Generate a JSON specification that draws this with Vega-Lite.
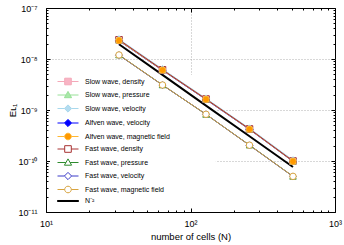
{
  "$schema": "https://vega.github.io/schema/vega-lite/v6.json",
  "width": 289,
  "height": 204,
  "autosize": "none",
  "padding": {"left": 46, "top": 8, "right": 9, "bottom": 33},
  "config": {
    "view": {"stroke": "black", "strokeWidth": 1},
    "font": "Liberation Sans",
    "axis": {
      "domain": false,
      "labelFont": "Liberation Sans",
      "labelFontSize": 9,
      "labelColor": "black",
      "titleFont": "Liberation Sans",
      "titleFontSize": 9.5,
      "titleFontWeight": "normal",
      "titleColor": "black",
      "tickColor": "black",
      "tickWidth": 1,
      "gridColor": "#b0b0b0",
      "gridDash": [1, 2],
      "labelFlush": false,
      "labelOverlap": false,
      "labelBound": false
    },
    "legend": {
      "orient": "none", "legendX": 18.5, "legendY": 70, "title": null,
      "symbolSize": 36, "symbolStrokeWidth": 1, "labelFontSize": 7, "labelFont": "Liberation Sans",
      "labelColor": "black", "rowPadding": 1.5, "labelOffset": 13.5, "padding": 0
    }
  },
  "datasets": {
    "d": [
      {"series": "Slow wave, density", "N": 32, "E": 2.38e-8},
      {"series": "Slow wave, density", "N": 64, "E": 6.15e-9},
      {"series": "Slow wave, density", "N": 128, "E": 1.64e-9},
      {"series": "Slow wave, density", "N": 256, "E": 4.25e-10},
      {"series": "Slow wave, density", "N": 512, "E": 1.0e-10},
      {"series": "Slow wave, pressure", "N": 32, "E": 2.35e-8},
      {"series": "Slow wave, pressure", "N": 64, "E": 6.1e-9},
      {"series": "Slow wave, pressure", "N": 128, "E": 1.63e-9},
      {"series": "Slow wave, pressure", "N": 256, "E": 4.22e-10},
      {"series": "Slow wave, pressure", "N": 512, "E": 9.9e-11},
      {"series": "Slow wave, velocity", "N": 32, "E": 2.45e-8},
      {"series": "Slow wave, velocity", "N": 64, "E": 6.35e-9},
      {"series": "Slow wave, velocity", "N": 128, "E": 1.69e-9},
      {"series": "Slow wave, velocity", "N": 256, "E": 4.38e-10},
      {"series": "Slow wave, velocity", "N": 512, "E": 1.04e-10},
      {"series": "Alfven wave, velocity", "N": 32, "E": 2.28e-8},
      {"series": "Alfven wave, velocity", "N": 64, "E": 6.0e-9},
      {"series": "Alfven wave, velocity", "N": 128, "E": 1.6e-9},
      {"series": "Alfven wave, velocity", "N": 256, "E": 4.15e-10},
      {"series": "Alfven wave, velocity", "N": 512, "E": 9.8e-11},
      {"series": "Alfven wave, magnetic field", "N": 32, "E": 2.3e-8},
      {"series": "Alfven wave, magnetic field", "N": 64, "E": 6.05e-9},
      {"series": "Alfven wave, magnetic field", "N": 128, "E": 1.62e-9},
      {"series": "Alfven wave, magnetic field", "N": 256, "E": 4.18e-10},
      {"series": "Alfven wave, magnetic field", "N": 512, "E": 9.85e-11},
      {"series": "Fast wave, density", "N": 32, "E": 2.38e-8},
      {"series": "Fast wave, density", "N": 64, "E": 6.15e-9},
      {"series": "Fast wave, density", "N": 128, "E": 1.64e-9},
      {"series": "Fast wave, density", "N": 256, "E": 4.25e-10},
      {"series": "Fast wave, density", "N": 512, "E": 1.0e-10},
      {"series": "Fast wave, pressure", "N": 32, "E": 1.2e-8},
      {"series": "Fast wave, pressure", "N": 64, "E": 3.1e-9},
      {"series": "Fast wave, pressure", "N": 128, "E": 8.2e-10},
      {"series": "Fast wave, pressure", "N": 256, "E": 2.05e-10},
      {"series": "Fast wave, pressure", "N": 512, "E": 5.0e-11},
      {"series": "Fast wave, velocity", "N": 32, "E": 1.19e-8},
      {"series": "Fast wave, velocity", "N": 64, "E": 3.08e-9},
      {"series": "Fast wave, velocity", "N": 128, "E": 8.25e-10},
      {"series": "Fast wave, velocity", "N": 256, "E": 2.03e-10},
      {"series": "Fast wave, velocity", "N": 512, "E": 4.98e-11},
      {"series": "Fast wave, magnetic field", "N": 32, "E": 1.2e-8},
      {"series": "Fast wave, magnetic field", "N": 64, "E": 3.09e-9},
      {"series": "Fast wave, magnetic field", "N": 128, "E": 8.24e-10},
      {"series": "Fast wave, magnetic field", "N": 256, "E": 2.04e-10},
      {"series": "Fast wave, magnetic field", "N": 512, "E": 5.0e-11},
      {"series": "N⁻²", "N": 32, "E": 1.95e-8},
      {"series": "N⁻²", "N": 64, "E": 4.88e-9},
      {"series": "N⁻²", "N": 128, "E": 1.22e-9},
      {"series": "N⁻²", "N": 256, "E": 3.05e-10},
      {"series": "N⁻²", "N": 512, "E": 7.63e-11}
    ]
  },
  "data": {"name": "d"},
  "layer": [
    {
      "mark": {"type": "rect", "fill": "white", "stroke": null},
      "encoding": {
        "x": {"datum": 10.74, "type": "quantitative", "scale": {"type": "log", "domain": [10, 1000], "nice": false}, "axis": null},
        "x2": {"datum": 148},
        "y": {"datum": 1.225e-11, "type": "quantitative", "scale": {"type": "log", "domain": [1e-11, 1e-7], "nice": false}, "axis": null},
        "y2": {"datum": 4.85e-9}
      }
    },
    {
      "transform": [{"filter": "datum.series != 'N⁻²'"}],
      "mark": {"type": "line", "strokeWidth": 1},
      "encoding": {
        "x": {
          "field": "N", "type": "quantitative",
          "scale": {"type": "log", "domain": [10, 1000], "nice": false},
          "axis": {
            "orient": "bottom",
            "title": "number of cells (N)",
            "values": [10, 20, 30, 40, 50, 60, 70, 80, 90, 100, 200, 300, 400, 500, 600, 700, 800, 900, 1000],
            "labelExpr": "datum.value == 10 ? '10¹' : datum.value == 100 ? '10²' : datum.value == 1000 ? '10³' : ''",
            "tickSize": {"condition": {"test": "indexof([10, 100, 1000], datum.value) >= 0", "value": -4}, "value": -2},
            "grid": true,
            "gridOpacity": {"condition": {"test": "datum.value == 100", "value": 1}, "value": 0},
            "labelPadding": 11,
            "titlePadding": 1
          }
        },
        "y": {
          "field": "E", "type": "quantitative",
          "scale": {"type": "log", "domain": [1e-11, 1e-7], "nice": false},
          "axis": {
            "orient": "left",
            "title": "Eʟ₁",
            "values": [1e-11, 2e-11, 3e-11, 4e-11, 5e-11, 6e-11, 7e-11, 8e-11, 9e-11, 1e-10, 2e-10, 3e-10, 4e-10, 5e-10, 6e-10, 7e-10, 8e-10, 9e-10, 1e-9, 2e-9, 3e-9, 4e-9, 5e-9, 6e-9, 7e-9, 8e-9, 9e-9, 1e-8, 2e-8, 3e-8, 4e-8, 5e-8, 6e-8, 7e-8, 8e-8, 9e-8, 1e-7],
            "labelExpr": "datum.value == 1e-7 ? '10⁻⁷' : datum.value == 1e-8 ? '10⁻⁸' : datum.value == 1e-9 ? '10⁻⁹' : datum.value == 1e-10 ? '10⁻¹⁰' : datum.value == 1e-11 ? '10⁻¹¹' : ''",
            "tickSize": {"condition": {"test": "indexof([1e-11, 1e-10, 1e-9, 1e-8, 1e-7], datum.value) >= 0", "value": -4}, "value": -2},
            "grid": true,
            "gridOpacity": {"condition": {"test": "indexof([1e-10, 1e-9, 1e-8], datum.value) >= 0", "value": 1}, "value": 0},
            "labelPadding": 13,
            "titlePadding": 0
          }
        },
        "stroke": {
          "field": "series", "type": "nominal",
          "scale": {
            "domain": ["Slow wave, density", "Slow wave, pressure", "Slow wave, velocity", "Alfven wave, velocity", "Alfven wave, magnetic field", "Fast wave, density", "Fast wave, pressure", "Fast wave, velocity", "Fast wave, magnetic field", "N⁻²"],
            "range": ["#f4a8b8", "#98e098", "#a8d8ec", "#0000ff", "#ffb732", "#a83232", "#2e8b2e", "#3a3ac8", "#d8a440", "#000000"]
          }
        }
      }
    },
    {
      "transform": [{"filter": "datum.series == 'N⁻²'"}],
      "mark": {"type": "line", "strokeWidth": 2},
      "encoding": {
        "x": {
          "field": "N", "type": "quantitative",
          "scale": {"type": "log", "domain": [10, 1000], "nice": false},
          "axis": {
            "orient": "top",
            "title": null,
            "labels": false,
            "grid": false,
            "values": [10, 20, 30, 40, 50, 60, 70, 80, 90, 100, 200, 300, 400, 500, 600, 700, 800, 900, 1000],
            "tickSize": {"condition": {"test": "indexof([10, 100, 1000], datum.value) >= 0", "value": -4}, "value": -2}
          }
        },
        "y": {
          "field": "E", "type": "quantitative",
          "scale": {"type": "log", "domain": [1e-11, 1e-7], "nice": false},
          "axis": {
            "orient": "right",
            "title": null,
            "labels": false,
            "grid": false,
            "values": [1e-11, 2e-11, 3e-11, 4e-11, 5e-11, 6e-11, 7e-11, 8e-11, 9e-11, 1e-10, 2e-10, 3e-10, 4e-10, 5e-10, 6e-10, 7e-10, 8e-10, 9e-10, 1e-9, 2e-9, 3e-9, 4e-9, 5e-9, 6e-9, 7e-9, 8e-9, 9e-9, 1e-8, 2e-8, 3e-8, 4e-8, 5e-8, 6e-8, 7e-8, 8e-8, 9e-8, 1e-7],
            "tickSize": {"condition": {"test": "indexof([1e-11, 1e-10, 1e-9, 1e-8, 1e-7], datum.value) >= 0", "value": -4}, "value": -2}
          }
        },
        "stroke": {"field": "series", "type": "nominal"}
      }
    },
    {
      "transform": [{"filter": {"field": "series", "oneOf": ["Slow wave, density", "Fast wave, density"]}}],
      "mark": {"type": "point", "shape": "square", "size": 42, "strokeWidth": 1, "opacity": 1},
      "encoding": {
        "x": {"field": "N", "type": "quantitative", "axis": null},
        "y": {"field": "E", "type": "quantitative", "axis": null},
        "stroke": {"field": "series", "type": "nominal"},
        "fill": {
          "field": "series", "type": "nominal",
          "scale": {
            "domain": ["Slow wave, density", "Slow wave, pressure", "Slow wave, velocity", "Alfven wave, velocity", "Alfven wave, magnetic field", "Fast wave, density", "Fast wave, pressure", "Fast wave, velocity", "Fast wave, magnetic field", "N⁻²"],
            "range": ["#f8b4c4", "#a8e8a8", "#b4dcf0", "#0000ff", "#ff9900", "#ffffff", "#ffffff", "#ffffff", "#ffffff", "#000000"]
          }
        }
      }
    },
    {
      "transform": [{"filter": {"field": "series", "oneOf": ["Slow wave, pressure", "Fast wave, pressure"]}}],
      "mark": {"type": "point", "shape": "triangle-up", "size": 42, "strokeWidth": 1, "opacity": 1},
      "encoding": {
        "x": {"field": "N", "type": "quantitative", "axis": null},
        "y": {"field": "E", "type": "quantitative", "axis": null},
        "stroke": {"field": "series", "type": "nominal"},
        "fill": {"field": "series", "type": "nominal"}
      }
    },
    {
      "transform": [{"filter": {"field": "series", "oneOf": ["Slow wave, velocity", "Alfven wave, velocity", "Fast wave, velocity"]}}],
      "mark": {"type": "point", "shape": "diamond", "size": 48, "strokeWidth": 1, "opacity": 1},
      "encoding": {
        "x": {"field": "N", "type": "quantitative", "axis": null},
        "y": {"field": "E", "type": "quantitative", "axis": null},
        "stroke": {"field": "series", "type": "nominal"},
        "fill": {"field": "series", "type": "nominal"}
      }
    },
    {
      "transform": [{"filter": {"field": "series", "oneOf": ["Alfven wave, magnetic field", "Fast wave, magnetic field"]}}],
      "mark": {"type": "point", "shape": "circle", "size": 42, "strokeWidth": 1, "opacity": 1},
      "encoding": {
        "x": {"field": "N", "type": "quantitative", "axis": null},
        "y": {"field": "E", "type": "quantitative", "axis": null},
        "stroke": {"field": "series", "type": "nominal"},
        "fill": {"field": "series", "type": "nominal"}
      }
    },
    {
      "transform": [{"filter": "datum.N < 0"}],
      "mark": {"type": "point", "opacity": 1, "strokeWidth": 1},
      "encoding": {
        "x": {"field": "N", "type": "quantitative", "axis": null},
        "y": {"field": "E", "type": "quantitative", "axis": null},
        "shape": {
          "field": "series", "type": "nominal",
          "scale": {
            "domain": ["Slow wave, density", "Slow wave, pressure", "Slow wave, velocity", "Alfven wave, velocity", "Alfven wave, magnetic field", "Fast wave, density", "Fast wave, pressure", "Fast wave, velocity", "Fast wave, magnetic field", "N⁻²"],
            "range": [
              "M-3.5,0H-1.1M1.1,0H3.5M-1.1,-1.1H1.1V1.1H-1.1Z",
              "M-3.5,0H-0.7M0.7,0H3.5M0,-1.2L1.2,0.9H-1.2Z",
              "M-3.5,0H-1.2M1.2,0H3.5M0,-1.2L1.2,0L0,1.2L-1.2,0Z",
              "M-3.5,0H-1.2M1.2,0H3.5M0,-1.2L1.2,0L0,1.2L-1.2,0Z",
              "M-3.5,0H-1.1M1.1,0H3.5M-1.1,0A1.1,1.1,0,1,0,1.1,0A1.1,1.1,0,1,0,-1.1,0Z",
              "M-3.5,0H-1.1M1.1,0H3.5M-1.1,-1.1H1.1V1.1H-1.1Z",
              "M-3.5,0H-0.7M0.7,0H3.5M0,-1.2L1.2,0.9H-1.2Z",
              "M-3.5,0H-1.2M1.2,0H3.5M0,-1.2L1.2,0L0,1.2L-1.2,0Z",
              "M-3.5,0H-1.1M1.1,0H3.5M-1.1,0A1.1,1.1,0,1,0,1.1,0A1.1,1.1,0,1,0,-1.1,0Z",
              "M-3.5,-0.17H3.5V0.17H-3.5Z"
            ]
          }
        },
        "stroke": {"field": "series", "type": "nominal"},
        "fill": {"field": "series", "type": "nominal"}
      }
    }
  ],
  "resolve": {"axis": {"x": "independent", "y": "independent"}}
}
